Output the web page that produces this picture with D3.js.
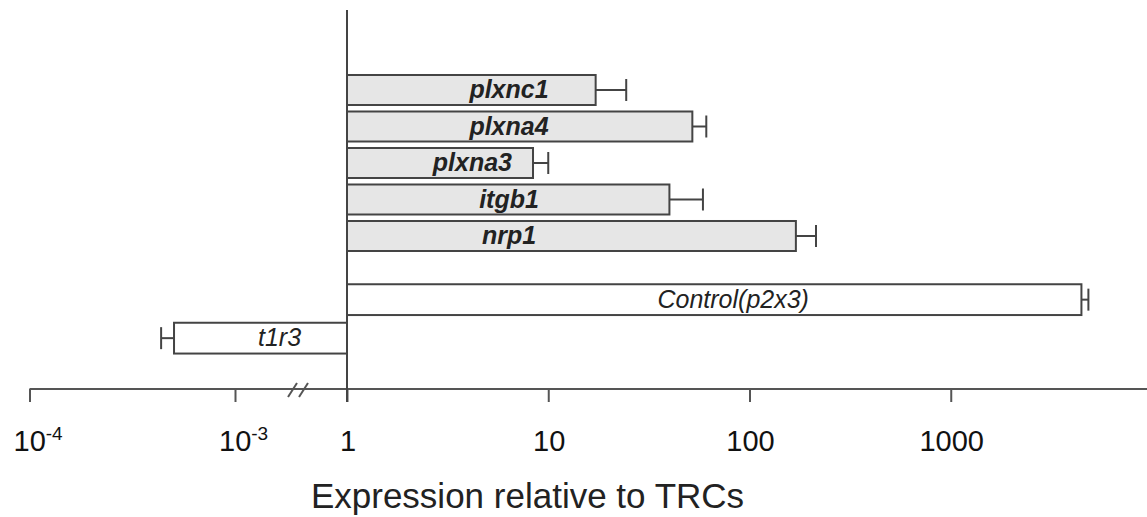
<!DOCTYPE html>
<html>
<head>
<meta charset="utf-8">
<script src="https://cdn.jsdelivr.net/npm/d3@7"></script>
<style>
  html, body { margin: 0; padding: 0; background: #fff; }
  svg { display: block; font-family: "Liberation Sans", Arial, sans-serif; }
</style>
</head>
<body>
<div id="chart"></div>
<script>
const genes = ["plxnc1", "plxna4", "plxna3", "itgb1", "nrp1"];
const geneMeans = [17.2, 52, 8.4, 40, 170];
const geneUpper = [24.4, 61, 10.0, 58.7, 214];

const controls = ["Control(p2x3)", "t1r3"];
const controlMeans = [4460, 5.05e-4];
const controlUpper = [4830, 4.37e-4];

const lowTicks = [1e-4, 1e-3];
const lowTickExp = ["-4", "-3"];
const highTicks = [1, 10, 100, 1000];
const axisTitle = "Expression relative to TRCs";

const width = 1147;
const height = 517;
const axisY = 389;
const ink = "#444";

const svg = d3.select("#chart").append("svg")
  .attr("width", width)
  .attr("height", height);

// broken log axis: small values on the left piece, >= 1 on the right piece
const xLow = d3.scaleLog().domain([1e-4, 1e-3]).range([29.5, 235]);
const xHigh = d3.scaleLog().domain([1, 1e4]).range([347, 1152]);
const x = v => (v >= 1 ? xHigh(v) : xLow(v));

const yGene = d3.scaleBand().domain(genes).range([71.75, 254.25])
  .paddingInner(0.178).paddingOuter(0.089);
const yCtrl = d3.scaleBand().domain(controls).range([280.4, 357.4])
  .paddingInner(0.2).paddingOuter(0.1);

const geneRows = genes.map((g, i) => ({ name: g, mean: geneMeans[i], upper: geneUpper[i], y: yGene, fill: "#e6e6e6", bold: true }));
const ctrlRows = controls.map((c, i) => ({ name: c, mean: controlMeans[i], upper: controlUpper[i], y: yCtrl, fill: "#fff", bold: false }));
const rows = geneRows.concat(ctrlRows);

// axis line
svg.append("line")
  .attr("x1", xLow(1e-4)).attr("x2", width)
  .attr("y1", axisY).attr("y2", axisY)
  .attr("stroke", "#555").attr("stroke-width", 2);

// break marks
[288, 299].forEach(bx => {
  svg.append("line")
    .attr("x1", bx).attr("y1", axisY + 8)
    .attr("x2", bx + 9).attr("y2", axisY - 6)
    .attr("stroke", "#555").attr("stroke-width", 2);
});

// ticks
const gLow = svg.append("g")
  .attr("transform", `translate(0,${axisY})`)
  .style("color", "#555")
  .call(d3.axisBottom(xLow).tickValues(lowTicks).tickSize(13).tickFormat(""));
const gHigh = svg.append("g")
  .attr("transform", `translate(0,${axisY})`)
  .style("color", "#555")
  .call(d3.axisBottom(xHigh).tickValues(highTicks).tickSize(13).tickFormat(""));
[gLow, gHigh].forEach(g => {
  g.select(".domain").remove();
  g.selectAll(".tick line").attr("stroke-width", 2);
});

// tick labels
svg.selectAll(".hi-label")
  .data(highTicks)
  .join("text")
  .attr("class", "hi-label")
  .attr("x", d => xHigh(d) + 1)
  .attr("y", 451)
  .attr("text-anchor", "middle")
  .attr("font-size", 29)
  .attr("fill", "#111")
  .text(d => d3.format("d")(d));

const lowLab = svg.selectAll(".lo-label")
  .data(lowTicks)
  .join("text")
  .attr("class", "lo-label")
  .attr("x", d => xLow(d) - 16)
  .attr("y", 451)
  .attr("font-size", 29)
  .attr("fill", "#111");
lowLab.append("tspan").text("10");
lowLab.append("tspan")
  .attr("font-size", 19)
  .attr("dy", -11)
  .text((d, i) => lowTickExp[i]);

// axis title
svg.append("text")
  .attr("x", 527.5)
  .attr("y", 508)
  .attr("text-anchor", "middle")
  .attr("font-size", 35)
  .attr("fill", "#222")
  .text(axisTitle);

// bars
const bars = svg.append("g");
bars.selectAll("rect")
  .data(rows)
  .join("rect")
  .attr("x", d => Math.min(x(1), x(d.mean)))
  .attr("width", d => Math.abs(x(d.mean) - x(1)))
  .attr("y", d => d.y(d.name))
  .attr("height", d => d.y.bandwidth())
  .attr("fill", d => d.fill)
  .attr("stroke", ink)
  .attr("stroke-width", 2);

// error bars
const err = svg.append("g").attr("stroke", ink).attr("stroke-width", 2);
rows.forEach(d => {
  const cy = d.y(d.name) + d.y.bandwidth() / 2;
  err.append("line")
    .attr("x1", x(d.mean)).attr("x2", x(d.upper))
    .attr("y1", cy).attr("y2", cy);
  err.append("line")
    .attr("x1", x(d.upper)).attr("x2", x(d.upper))
    .attr("y1", cy - 11).attr("y2", cy + 11);
});

// bar labels
svg.selectAll(".bar-label")
  .data(rows)
  .join("text")
  .attr("class", "bar-label")
  .attr("y", d => d.y(d.name) + d.y.bandwidth() / 2)
  .attr("dy", "0.33em")
  .attr("text-anchor", "middle")
  .attr("font-size", 25)
  .attr("font-style", "italic")
  .attr("font-weight", d => (d.bold ? "bold" : "normal"))
  .attr("fill", "#222")
  .text(d => d.name)
  .attr("x", function (d) {
    const w = this.getComputedTextLength();
    const lo = Math.min(x(1), x(d.mean));
    const hi = Math.max(x(1), x(d.mean));
    if (d.bold) return Math.min(509, hi - 21 - w / 2);
    return (lo + hi) / 2 + 19;
  });

// vertical baseline at 1
svg.append("line")
  .attr("x1", x(1)).attr("x2", x(1))
  .attr("y1", 10).attr("y2", axisY + 13)
  .attr("stroke", ink).attr("stroke-width", 2);
</script>
</body>
</html>
